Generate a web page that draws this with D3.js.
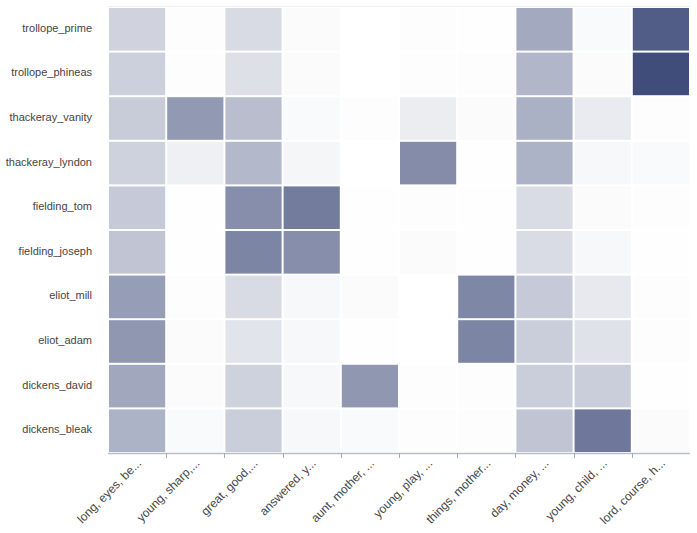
<!DOCTYPE html>
<html><head><meta charset="utf-8">
<script src="https://cdn.jsdelivr.net/npm/d3@7"></script>
<style>body{margin:0;background:#fff;} text{font-family:"Liberation Sans",Arial,sans-serif;}</style>
</head><body><svg id="c" width="697" height="533"></svg>
<script>
const rows = ["trollope_prime","trollope_phineas","thackeray_vanity","thackeray_lyndon","fielding_tom","fielding_joseph","eliot_mill","eliot_adam","dickens_david","dickens_bleak"];
const cols = ["long, eyes, be...","young, sharp,...","great, good,...","answered, y...","aunt, mother, ...","young, play, ...","things, mother...","day, money, ...","young, child, ...","lord, course, h..."];
const values = [
 [0.24,0.01,0.20,0.02,0.00,0.01,0.005,0.47,0.03,0.89],
 [0.26,0.01,0.17,0.02,0.00,0.01,0.01,0.40,0.02,0.98],
 [0.28,0.56,0.36,0.03,0.01,0.10,0.02,0.43,0.11,0.01],
 [0.25,0.08,0.39,0.05,0.00,0.63,0.005,0.42,0.04,0.03],
 [0.29,0.005,0.62,0.72,0.005,0.01,0.005,0.19,0.02,0.01],
 [0.32,0.005,0.67,0.62,0.005,0.02,0.005,0.19,0.04,0.005],
 [0.54,0.01,0.20,0.04,0.02,0.00,0.66,0.29,0.12,0.01],
 [0.57,0.02,0.15,0.04,0.005,0.00,0.67,0.27,0.16,0.01],
 [0.48,0.02,0.25,0.04,0.57,0.01,0.01,0.27,0.27,0.005],
 [0.42,0.03,0.27,0.04,0.03,0.01,0.01,0.32,0.74,0.02]
];
const svg = d3.select("#c");
const m = {l:108, r:690, t:7, b:453};
const x = d3.scaleBand().domain(cols).range([m.l, m.r]);
const y = d3.scaleBand().domain(rows).range([m.t, m.b]);
const color = d3.scaleLinear().domain([0,1]).range(["#ffffff","#3c4977"]);
svg.append("line").attr("x1",m.l).attr("x2",m.r).attr("y1",m.t-0.5).attr("y2",m.t-0.5).attr("stroke","#eceef0");
const cells = [];
rows.forEach((r,i)=>cols.forEach((c,j)=>cells.push({r,c,v:values[i][j]})));
svg.append("g").selectAll("rect").data(cells).join("rect")
 .attr("x",d=>x(d.c)+1).attr("y",d=>y(d.r)+1)
 .attr("width",x.bandwidth()-2).attr("height",y.bandwidth()-2)
 .attr("fill",d=>color(d.v));
svg.append("g").selectAll("text").data(rows).join("text")
 .attr("x",92).attr("y",d=>y(d)+y.bandwidth()/2).attr("dy","0.22em")
 .attr("text-anchor","end").attr("font-size",11).attr("fill","#444").text(d=>d);
const ax = svg.append("g");
ax.append("line").attr("x1",m.l).attr("x2",m.r).attr("y1",m.b+0.5).attr("y2",m.b+0.5).attr("stroke","#b6bfc8").attr("stroke-width",1.5);
ax.selectAll("line.t").data(cols.slice(1)).join("line").attr("class","t")
 .attr("x1",d=>Math.round(x(d))+0.5).attr("x2",d=>Math.round(x(d))+0.5).attr("y1",m.b).attr("y2",m.b+5).attr("stroke","#a0aab4");
ax.selectAll("text").data(cols).join("text")
 .attr("transform",d=>`translate(${x(d)+x.bandwidth()/2+2},${m.b+8}) rotate(-45)`)
 .attr("text-anchor","end").attr("dy","0.35em").attr("font-size",12).attr("fill","#444").text(d=>d);
</script></body></html>
